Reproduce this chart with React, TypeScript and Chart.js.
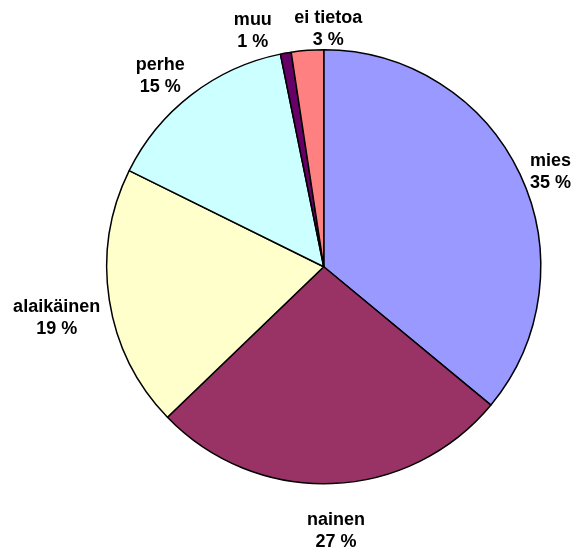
import React, { useEffect, useRef } from "react";
import { Chart, registerables } from "chart.js";

Chart.register(...registerables);

const categories: string[] = ["mies", "nainen", "alaikäinen", "perhe", "muu", "ei tietoa"];
const shares: number[] = [36.0, 26.8, 19.5, 14.5, 0.8, 2.4];
const percentLabels: string[] = ["35 %", "27 %", "19 %", "15 %", "1 %", "3 %"];
const sliceColors: string[] = ["#9999FF", "#993366", "#FFFFCC", "#CCFFFF", "#660066", "#FF8080"];

// per-label nudges (text placement only), relative to an anchor on each slice's mid-angle
const labelNudges: [number, number][] = [
  [5, 10],
  [3, 19],
  [-25, 14],
  [-14, 3],
  [-28, 5],
  [23, 7],
];

const outsideLabels = {
  id: "outsideLabels",
  afterDraw(chart: any) {
    const ctx = chart.ctx;
    const meta = chart.getDatasetMeta(0);
    ctx.save();
    ctx.font = "bold 18px 'Liberation Sans', Arial, sans-serif";
    ctx.fillStyle = "#000";
    ctx.textAlign = "center";
    ctx.textBaseline = "middle";
    meta.data.forEach((arc: any, i: number) => {
      const { x, y, startAngle, endAngle, outerRadius } = arc.getProps(
        ["x", "y", "startAngle", "endAngle", "outerRadius"],
        true
      );
      const mid = (startAngle + endAngle) / 2;
      const d = outerRadius + 28;
      const cx = x + Math.cos(mid) * d + labelNudges[i][0];
      const cy = y + Math.sin(mid) * d + labelNudges[i][1];
      ctx.fillText(categories[i], cx, cy - 11);
      ctx.fillText(percentLabels[i], cx, cy + 11);
    });
    ctx.restore();
  },
};

export default function App() {
  const canvasRef = useRef<HTMLCanvasElement | null>(null);

  useEffect(() => {
    const canvas = canvasRef.current;
    if (!canvas) return;
    const chart = new Chart(canvas, {
      type: "pie",
      data: {
        labels: categories,
        datasets: [
          {
            data: shares,
            backgroundColor: sliceColors,
            borderColor: "#000000",
            borderWidth: 1.5,
          },
        ],
      },
      options: {
        animation: false,
        responsive: false,
        maintainAspectRatio: false,
        layout: { padding: { left: 106, right: 32.5, top: 49, bottom: 65.5 } },
        plugins: {
          legend: { display: false },
          tooltip: { enabled: false },
        },
      },
      plugins: [outsideLabels],
    });
    return () => chart.destroy();
  }, []);

  return (
    <div style={{ position: "absolute", left: 0, top: 0, width: 574, height: 550, background: "#fff" }}>
      <canvas ref={canvasRef} width={574} height={550} style={{ width: 574, height: 550, display: "block" }} />
    </div>
  );
}
